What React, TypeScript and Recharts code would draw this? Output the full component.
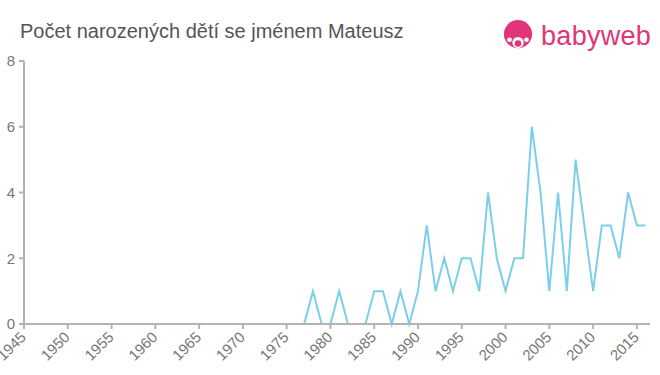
import React from "react";
import { LineChart, Line, XAxis, YAxis } from "recharts";

const years: number[] = [];
for (let y = 1945; y <= 2016; y++) years.push(y);

const earlyZeros: number[] = new Array(1977 - 1945).fill(0); // 1945-1976
const counts1977to2016: number[] = [
  0, 1, 0, 0, 1, 0, 0, 0, 1, 1, // 1977-1986
  0, 1, 0, 1, 3, 1, 2, 1, 2, 2, // 1987-1996
  1, 4, 2, 1, 2, 2, 6, 4, 1, 4, // 1997-2006
  1, 5, 3, 1, 3, 3, 2, 4, 3, 3, // 2007-2016
];
const counts: number[] = [...earlyZeros, ...counts1977to2016];

const xTicks: number[] = [1945, 1950, 1955, 1960, 1965, 1970, 1975, 1980, 1985, 1990, 1995, 2000, 2005, 2010, 2015];
const yTicks: number[] = [0, 2, 4, 6, 8];

const data = years.map((year, i) => ({ year, count: counts[i] }));

const FONT = "'Liberation Sans', Arial, Helvetica, sans-serif";

const XTick = (props: any) => {
  const { x, y, payload } = props;
  const ax = x + 3;
  const ay = y + 7;
  return (
    <text
      x={ax}
      y={ay}
      textAnchor="end"
      fontSize={15}
      fill="#777"
      fontFamily={FONT}
      transform={`rotate(-45, ${ax}, ${ay})`}
    >
      {payload.value}
    </text>
  );
};

export default function App() {
  return (
    <div style={{ position: "absolute", left: 0, top: 0, width: 660, height: 375, background: "#fff", fontFamily: FONT }}>
      <div style={{ position: "absolute", left: 20, top: 20, fontSize: 20, lineHeight: "23px", color: "#555", whiteSpace: "nowrap" }}>
        Počet narozených dětí se jménem Mateusz
      </div>
      <div style={{ position: "absolute", left: 502, top: 20, display: "flex", alignItems: "center" }}>
        <svg width={32} height={32} viewBox="0 0 32 34">
          <circle cx={16} cy={15} r={15} fill="#e0357b" />
          <circle cx={16} cy={24} r={6} fill="#fff" />
          <circle cx={16} cy={25} r={3.5} fill="#e0357b" />
          <circle cx={7} cy={21} r={2.5} fill="#fff" />
          <circle cx={25} cy={21} r={2.5} fill="#fff" />
        </svg>
        <span style={{ marginLeft: 7, fontSize: 27, color: "#e0357b", letterSpacing: 0.3, lineHeight: "30px" }}>babyweb</span>
      </div>
      <LineChart
        width={660}
        height={375}
        data={data}
        margin={{ top: 61, right: 10, bottom: 0, left: 0 }}
      >
        <XAxis
          dataKey="year"
          type="number"
          domain={[1945, 2016.5]}
          ticks={xTicks}
          interval={0}
          height={51}
          stroke="#b3b3b3"
          strokeWidth={2}
          tickSize={5}
          tick={<XTick />}
          allowDataOverflow
        />
        <YAxis
          domain={[0, 8]}
          ticks={yTicks}
          width={24}
          stroke="#b3b3b3"
          strokeWidth={2}
          tickSize={5}
          tickMargin={4}
          tick={{ fontSize: 15, fill: "#777", fontFamily: FONT }}
          interval={0}
        />
        <Line
          type="linear"
          dataKey="count"
          stroke="#7ccfea"
          strokeWidth={2}
          dot={false}
          isAnimationActive={false}
        />
      </LineChart>
    </div>
  );
}
